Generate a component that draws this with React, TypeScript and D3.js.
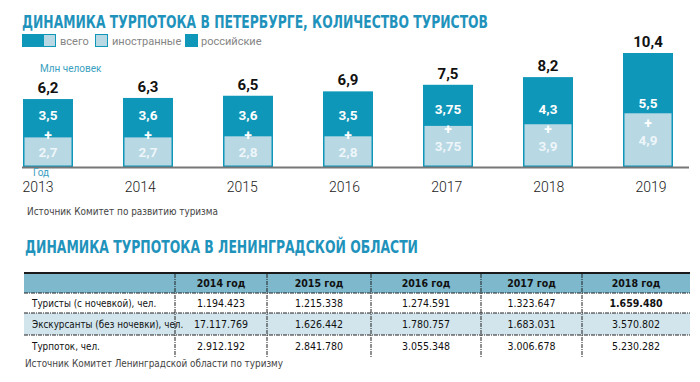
import React from 'react';
import * as d3 from 'd3';

const years = ['2013', '2014', '2015', '2016', '2017', '2018', '2019'];
const totals = [6.2, 6.3, 6.5, 6.9, 7.5, 8.2, 10.4];
const russian = [3.5, 3.6, 3.6, 3.5, 3.75, 4.3, 5.5];
const foreign = [2.7, 2.7, 2.8, 2.8, 3.75, 3.9, 4.9];
const legendItems = ['всего', 'иностранные', 'российские'];

const tableYears = ['2014 год', '2015 год', '2016 год', '2017 год', '2018 год'];
const rowLabels = ['Туристы (с ночевкой), чел.', 'Экскурсанты (без ночевки), чел.', 'Турпоток, чел.'];
const tourists = [1194423, 1215338, 1274591, 1323647, 1659480];
const excursionists = [17117769, 1626442, 1780757, 1683031, 3570802];
const flow = [2912192, 2841780, 3055348, 3006678, 5230282];

const TEAL = '#0f97b9';
const LIGHT = '#b8d8e4';
const TITLE = '#1f93bb';
const COND = "'Liberation Sans Narrow', 'DejaVu Sans Condensed', 'Roboto Condensed', Roboto, sans-serif";
const SANS = "Roboto, 'Open Sans', sans-serif";

const ru = d3.formatLocale({ decimal: ',', thousands: '.', grouping: [3], currency: ['', ''] });
const fmtVal = (v: number) => ru.format('~g')(v);
const fmtInt = ru.format(',d');

export default function App() {
  const baseY = 167;
  const x = d3.scaleBand<string>().domain(years).range([-2, 698]).paddingInner(0.5).paddingOuter(0.25);
  const xLabel = d3.scalePoint<string>().domain(years).range([38, 651]);
  const y = d3.scaleLinear().domain([0, 10.4]).range([baseY, 53]);
  const bw = x.bandwidth();

  const colEdges = [24, 175, 267, 371, 481, 582, 690];
  const rowTops = [273, 293, 313, 335];
  const rowH = [20, 20, 22, 22];
  const rowsData = [tourists, excursionists, flow];

  return (
    <svg width={700} height={382} style={{ position: 'absolute', left: 0, top: 0, background: '#fff' }}>
      <text x={22} y={28} fill={TITLE} fontFamily={COND} fontWeight={700} fontSize={17}
        textLength={466} lengthAdjust="spacingAndGlyphs">
        ДИНАМИКА ТУРПОТОКА В ПЕТЕРБУРГЕ, КОЛИЧЕСТВО ТУРИСТОВ
      </text>

      {/* legend */}
      <g>
        <rect x={22} y={34} width={21} height={13} fill={TEAL} />
        <rect x={43.5} y={34.5} width={12} height={12} fill={LIGHT} stroke={TEAL} strokeWidth={1} />
        <text x={60} y={45} fill="#858585" fontFamily={SANS} fontSize={11}>{legendItems[0]}</text>
        <rect x={95.5} y={34.5} width={12} height={12} fill={LIGHT} stroke={TEAL} strokeWidth={1} />
        <text x={112} y={45} fill="#858585" fontFamily={SANS} fontSize={11}>{legendItems[1]}</text>
        <rect x={185} y={34} width={13} height={13} fill={TEAL} />
        <text x={201} y={45} fill="#858585" fontFamily={SANS} fontSize={11}>{legendItems[2]}</text>
      </g>

      <text x={40} y={72} fill="#3a9fc0" fontFamily={SANS} fontSize={10}>Млн человек</text>

      {years.map((yr, i) => {
        const x0 = x(yr)!;
        const cx = x0 + bw / 2;
        const top = y(totals[i]);
        const lTop = y(foreign[i]);
        const lCenter = (lTop + baseY) / 2;
        return (
          <g key={yr}>
            <rect x={x0} y={top} width={bw} height={baseY - top} fill={TEAL} />
            <rect x={x0 + 1.5} y={lTop} width={bw - 3} height={baseY - lTop - 1.5} fill={LIGHT} />
            <text x={cx} y={top - 6} textAnchor="middle" fontFamily={SANS} fontWeight={700} fontSize={15} fill="#111">
              {fmtVal(totals[i])}
            </text>
            <text x={cx} y={lCenter - 37 + 5} textAnchor="middle" fontFamily={SANS} fontWeight={700} fontSize={13.5} fill="#fff">
              {fmtVal(russian[i])}
            </text>
            <text x={cx} y={lCenter - 17 + 5} textAnchor="middle" fontFamily={SANS} fontWeight={700} fontSize={14} fill="#fff">
              +
            </text>
            <text x={cx} y={lCenter + 5} textAnchor="middle" fontFamily={SANS} fontWeight={700} fontSize={13.5} fill="#eef6f9">
              {fmtVal(foreign[i])}
            </text>
            <text x={xLabel(yr)} y={192} textAnchor="middle" fontFamily={SANS} fontWeight={300} fontSize={14} fill="#222">
              {yr}
            </text>
          </g>
        );
      })}
      <line x1={22} x2={689} y1={baseY + 0.5} y2={baseY + 0.5} stroke="#777" strokeWidth={2} />
      <text x={33} y={175.5} fill="#3a9fc0" fontFamily={SANS} fontSize={10}>Год</text>

      <text x={27} y={215} fill="#444" fontFamily={COND} fontSize={11}
        textLength={191} lengthAdjust="spacingAndGlyphs">Источник Комитет по развитию туризма</text>

      <text x={25} y={253} fill={TITLE} fontFamily={COND} fontWeight={700} fontSize={17}
        textLength={393} lengthAdjust="spacingAndGlyphs">
        ДИНАМИКА ТУРПОТОКА В ЛЕНИНГРАДСКОЙ ОБЛАСТИ
      </text>

      {/* table */}
      <rect x={colEdges[0]} y={rowTops[0]} width={colEdges[6] - colEdges[0]} height={20} fill="#7db8cc" />
      <rect x={colEdges[0]} y={rowTops[2]} width={colEdges[6] - colEdges[0]} height={22} fill="#d2e5ed" />
      <line x1={colEdges[0]} x2={colEdges[6]} y1={273} y2={273} stroke="#1a1a1a" strokeWidth={2} />
      {[293, 313, 335].map((ly) => (
        <line key={ly} x1={colEdges[0]} x2={colEdges[6]} y1={ly} y2={ly} stroke="#222" strokeWidth={1} strokeDasharray="4,1,1,1" />
      ))}
      {colEdges.slice(1, 6).map((cx) => (
        <line key={cx} x1={cx} x2={cx} y1={274} y2={357} stroke="#222" strokeWidth={1} strokeDasharray="4,1,1,1" />
      ))}
      {tableYears.map((t, j) => (
        <text key={t} x={(colEdges[j + 1] + colEdges[j + 2]) / 2} y={287} textAnchor="middle"
          fontFamily={COND} fontWeight={700} fontSize={10.5} fill="#111">{t}</text>
      ))}
      {rowLabels.map((lab, r) => {
        const ty = rowTops[r + 1] + rowH[r + 1] / 2 + 4;
        return (
          <g key={lab}>
            <text x={32} y={ty} fontFamily={COND} fontSize={9.8} fill="#111">{lab}</text>
            {rowsData[r].map((v, j) => (
              <text key={j} x={(colEdges[j + 1] + colEdges[j + 2]) / 2} y={ty} textAnchor="middle"
                fontFamily={COND} fontSize={10.5} fontWeight={r === 0 && j === 4 ? 700 : 400} fill="#111">
                {fmtInt(v)}
              </text>
            ))}
          </g>
        );
      })}
      <text x={25} y={367} fill="#444" fontFamily={COND} fontSize={11}
        textLength={258} lengthAdjust="spacingAndGlyphs">Источник Комитет Ленинградской области по туризму</text>
    </svg>
  );
}
